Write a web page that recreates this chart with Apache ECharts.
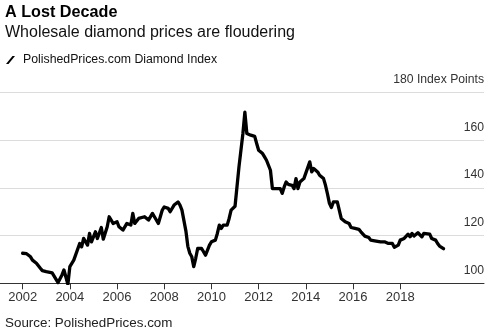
<!DOCTYPE html>
<html>
<head>
<meta charset="utf-8">
<script src="https://cdn.jsdelivr.net/npm/echarts@6/dist/echarts.min.js"></script>
<style>
  html, body { margin: 0; padding: 0; background: #fff; }
  #chart { width: 500px; height: 331px; }
</style>
</head>
<body>
<div id="chart"></div>
<script>
// PolishedPrices.com Diamond Index, monthly readings (YYYY-MM)
const months = [
  '2002-01','2002-03','2002-05','2002-06','2002-08','2002-10','2002-11',
  '2003-01','2003-04','2003-05','2003-07','2003-09','2003-10','2003-12',
  '2004-01','2004-03','2004-04','2004-06','2004-07','2004-08','2004-10','2004-11','2004-12',
  '2005-02','2005-03','2005-05','2005-06','2005-08','2005-09','2005-10','2005-11',
  '2006-01','2006-02','2006-04','2006-06','2006-08','2006-09','2006-10','2006-12',
  '2007-01','2007-03','2007-05','2007-07','2007-08','2007-10','2007-12',
  '2008-01','2008-03','2008-04','2008-06','2008-08','2008-09','2008-10','2008-11','2008-12',
  '2009-01','2009-02','2009-03','2009-04','2009-05','2009-06','2009-07','2009-08','2009-10','2009-11','2009-12',
  '2010-01','2010-03','2010-04','2010-05','2010-06','2010-07','2010-09','2010-10','2010-11',
  '2011-01','2011-02','2011-03','2011-05','2011-06','2011-07','2011-09','2011-10','2011-11','2011-12',
  '2012-01','2012-02','2012-03','2012-04','2012-05','2012-06','2012-07','2012-08','2012-09','2012-10','2012-11','2012-12',
  '2013-01','2013-02','2013-03','2013-04','2013-06','2013-07','2013-08','2013-09','2013-10','2013-11','2013-12',
  '2014-01','2014-03','2014-04','2014-05','2014-07','2014-08','2014-09','2014-10','2014-11','2014-12',
  '2015-01','2015-02','2015-03','2015-04','2015-05','2015-06','2015-07','2015-09','2015-10','2015-11','2015-12',
  '2016-02','2016-03','2016-04','2016-05','2016-07','2016-08','2016-09','2016-10','2016-12',
  '2017-01','2017-03','2017-04','2017-05','2017-07','2017-09','2017-10','2017-12',
  '2018-01','2018-03','2018-04','2018-05','2018-06','2018-07','2018-08','2018-10','2018-11','2018-12',
  '2019-01','2019-02','2019-04','2019-05','2019-07','2019-08','2019-09','2019-10','2019-11'
];
const indexPoints = [
  112.6,112.4,111.1,109.7,108.4,106.3,105.3,
  104.9,104.4,104.9,100.3,103.5,105.6,99.6,
  107.0,109.7,110.5,116.7,115.3,118.8,116.0,120.9,117.4,
  121.6,118.8,123.4,118.5,123.7,127.9,128.6,125.1,
  125.8,123.7,122.3,125.1,124.4,129.3,125.1,127.2,
  126.5,127.9,126.5,129.3,127.9,125.1,130.7,
  132.0,131.4,130.0,132.8,134.1,132.8,130.7,131.0,122.0,
  115.5,112.6,111.1,107.0,110.5,114.6,115.3,114.6,111.8,113.9,116.0,
  117.4,118.1,120.9,124.4,123.0,124.4,124.4,127.2,130.7,
  132.3,132.8,148.8,162.8,171.8,162.8,162.1,161.3,161.6,158.6,
  155.8,156.5,154.4,153.0,151.6,149.5,147.4,139.7,139.0,139.7,139.0,139.7,
  137.7,140.4,142.5,141.5,141.1,139.7,143.9,139.7,142.5,141.8,143.9,
  143.9,150.9,146.7,148.1,146.7,145.3,144.6,143.9,141.1,137.5,
  133.5,131.8,134.1,134.6,134.1,130.7,127.2,125.8,126.5,125.1,123.4,
  123.0,122.3,122.6,121.6,119.8,120.2,119.2,118.1,117.8,
  118.4,117.4,118.1,117.4,116.7,116.7,115.1,116.0,
  118.1,118.8,119.5,120.6,119.5,120.9,119.8,121.2,120.6,119.5,
  120.9,120.9,120.6,118.8,118.1,116.7,115.6,115.1,114.5
];
const yearTicks = [2002, 2004, 2006, 2008, 2010, 2012, 2014, 2016, 2018];

const FONT = '"Liberation Sans", Arial, sans-serif';

// month string -> fractional year
const toYear = s => {
  const [y, m] = s.split('-').map(Number);
  return y + (m - 1) / 12;
};
const seriesData = months.map((m, i) => [toYear(m), indexPoints[i]]);

const chart = echarts.init(document.getElementById('chart'), null, { renderer: 'canvas' });
chart.setOption({
  animation: false,
  backgroundColor: '#fff',
  title: [
    { text: 'A Lost Decade', left: 5, top: 3.3, padding: 0,
      textStyle: { fontFamily: FONT, fontSize: 16.2, fontWeight: 'bold', color: '#000', lineHeight: 18 } },
    { text: 'Wholesale diamond prices are floudering', left: 5, top: 23.3, padding: 0,
      textStyle: { fontFamily: FONT, fontSize: 16, fontWeight: 'normal', color: '#111', lineHeight: 18 } },
    { text: 'Source: PolishedPrices.com', left: 5, top: 315.5, padding: 0,
      textStyle: { fontFamily: FONT, fontSize: 13.4, fontWeight: 'normal', color: '#222', lineHeight: 16 } }
  ],
  legend: {
    left: 6, top: 54, padding: 0,
    itemWidth: 9, itemHeight: 8, itemGap: 8,
    icon: 'path://M0,8 L6.5,0 L9,0 L2.5,8 Z',
    itemStyle: { color: '#000' },
    textStyle: { fontFamily: FONT, fontSize: 12.3, color: '#111', padding: [0, 0, 0, 3] },
    data: ['PolishedPrices.com Diamond Index']
  },
  grid: { left: 0, right: 16, top: 92.5, bottom: 47.7, containLabel: false },
  xAxis: {
    type: 'value',
    min: 2001.04, max: 2021.55,
    axisLine: { show: true, lineStyle: { color: '#333', width: 1 } },
    axisTick: { show: true, customValues: yearTicks, length: 6, lineStyle: { color: '#333' } },
    axisLabel: { customValues: yearTicks, margin: 8, fontFamily: FONT, fontSize: 13, color: '#333',
      formatter: v => String(Math.round(v)) },
    splitLine: { show: false }
  },
  yAxis: {
    type: 'value',
    position: 'right',
    min: 100, max: 180, interval: 20,
    axisLine: { show: false },
    axisTick: { show: false },
    axisLabel: {
      inside: true, margin: 0, showMaxLabel: true, showMinLabel: true,
      fontFamily: FONT, fontSize: 12.2, color: '#333',
      verticalAlign: 'bottom', lineHeight: 14, padding: [0, 0, 6, 0],
      formatter: v => v === 180 ? '180 Index Points' : String(v)
    },
    splitLine: { show: true, lineStyle: { color: '#dcdcdc', width: 1 } }
  },
  series: [{
    name: 'PolishedPrices.com Diamond Index',
    type: 'line',
    data: seriesData,
    showSymbol: false,
    symbol: 'none',
    lineStyle: { color: '#000', width: 3.3, join: 'round', cap: 'round' },
    itemStyle: { color: '#000' },
    z: 5
  }]
});
</script>
</body>
</html>
